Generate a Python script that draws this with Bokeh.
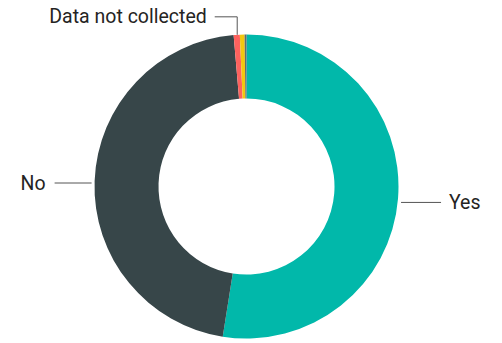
import math
from bokeh.plotting import figure
from bokeh.models import Range1d, ColumnDataSource
from bokeh.core.properties import value
from bokeh.embed import file_html
from bokeh.resources import INLINE

# Data
categories = ["Yes", "No", "Data not collected", "Other", "Unknown"]
shares = [52.5, 46.15, 0.65, 0.5, 0.2]
colors = ["#01B8AA", "#374649", "#FD625E", "#F2C80F", "#5F6B6D"]
shown_labels = ["Yes", "No", "Data not collected"]

W, H = 502, 343
p = figure(width=W, height=H, output_backend="svg", toolbar_location=None,
           x_range=Range1d(0, W), y_range=Range1d(0, H), min_border=0)
p.axis.visible = False
p.grid.visible = False
p.outline_line_color = None
p.background_fill_color = "white"

cx, cy = 246, 343 - 186
r_out, r_in = 152, 88

total = sum(shares)
starts, ends, mids = [], [], []
acc = 0.0
for s in shares:
    a0 = math.pi / 2 - 2 * math.pi * acc / total
    acc += s
    a1 = math.pi / 2 - 2 * math.pi * acc / total
    starts.append(a0)
    ends.append(a1)
    mids.append((a0 + a1) / 2)

src = ColumnDataSource(dict(cat=categories, start=starts, end=ends, color=colors))
p.annular_wedge(x=cx, y=cy, inner_radius=r_in, outer_radius=r_out,
                start_angle="start", end_angle="end", direction="clock",
                fill_color="color", line_color=None, source=src)

font = value("Roboto")
txt_color = "#252423"
line_color = "#555555"
fs = "19.5px"

for name in shown_labels:
    i = categories.index(name)
    m = mids[i]
    ax = cx + r_out * math.cos(m)
    ay = cy + r_out * math.sin(m)
    if name == "Data not collected":
        ty = ay + 18
        xs = [ax + 0.5, ax + 0.5, ax - 22]
        ys = [ay, ty, ty]
        p.line(xs, ys, line_color=line_color, line_width=1)
        p.text(x=[ax - 30], y=[ty], text=[name], text_align="right",
               text_baseline="middle", text_font=font, text_font_size=fs,
               text_color=txt_color)
    elif math.cos(m) < 0:
        p.line([ax - 3, ax - 40], [ay - 2, ay - 2], line_color=line_color, line_width=1)
        p.text(x=[ax - 49], y=[ay - 2], text=[name], text_align="right",
               text_baseline="middle", text_font=font, text_font_size=fs,
               text_color=txt_color)
    else:
        p.line([ax + 3, ax + 43], [ay - 4, ay - 4], line_color=line_color, line_width=1)
        p.text(x=[ax + 51], y=[ay - 4], text=[name], text_align="left",
               text_baseline="middle", text_font=font, text_font_size=fs,
               text_color=txt_color)

open("out.html", "w").write(file_html(p, INLINE))
